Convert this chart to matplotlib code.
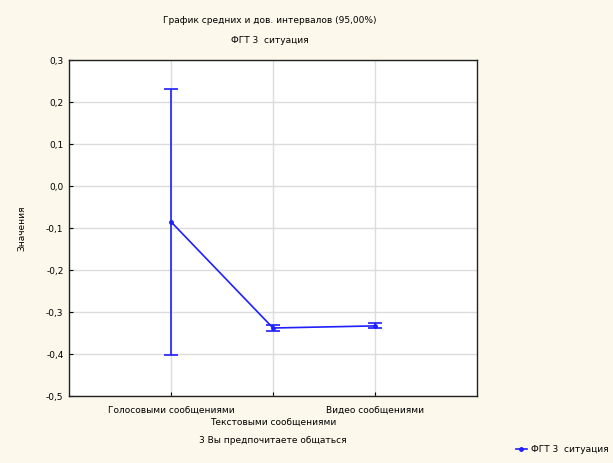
import matplotlib
matplotlib.use("Agg")
import matplotlib.pyplot as plt
from matplotlib.lines import Line2D

categories = ["Голосовыми сообщениями", "Текстовыми сообщениями", "Видео сообщениями"]
means = [-0.085, -0.338, -0.333]
lower = [-0.402, -0.346, -0.339]
upper = [0.231, -0.330, -0.327]
yticks = [0.3, 0.2, 0.1, 0.0, -0.1, -0.2, -0.3, -0.4, -0.5]
series_name = "ФГТ 3  ситуация"

bg = "#fdf8ec"
blue = "#1f1fff"
fig = plt.figure(figsize=(6.13, 4.63), dpi=100, facecolor=bg)
ax = fig.add_axes([0.1126, 0.1447, 0.6656, 0.7253])
ax.set_facecolor("white")

x = list(range(len(categories)))
yerr = [[m - l for m, l in zip(means, lower)], [u - m for m, u in zip(means, upper)]]
ax.errorbar(x, means, yerr=yerr, color=blue, lw=1.2, capsize=5, capthick=1.2,
            marker="o", ms=2.5, zorder=3)

ax.set_xlim(-1, 3)
ax.set_ylim(-0.5, 0.3)
ax.set_yticks(yticks)
ax.set_yticklabels([f"{v:.1f}".replace(".", ",").replace("-0,0", "0,0") for v in yticks],
                   fontsize=6.5)
# staggered category labels: even on major ticks, odd on minor ticks (lower row)
ax.set_xticks(x[0::2])
ax.set_xticklabels(categories[0::2], fontsize=6.5)
ax.set_xticks(x[1::2], minor=True)
ax.set_xticklabels(categories[1::2], minor=True, fontsize=6.5)
ax.tick_params(axis="both", which="both", length=3, width=0.8, direction="in")
ax.tick_params(axis="x", which="major", pad=7)
ax.tick_params(axis="x", which="minor", pad=16)
ax.tick_params(axis="y", pad=4)
ax.grid(True, which="major", color="#dcdcdc", lw=1)
ax.grid(True, which="minor", axis="x", color="#dcdcdc", lw=1)
ax.set_axisbelow(True)
for s in ax.spines.values():
    s.set_linewidth(1.0)
    s.set_color("#222222")

ax.set_ylabel("Значения", fontsize=6.5, labelpad=14)
ax.set_xlabel("3 Вы предпочитаете общаться", fontsize=6.5, labelpad=6)

fig.text(0.44, 0.950, "График средних и дов. интервалов (95,00%)", ha="center", fontsize=6.5)
fig.text(0.44, 0.907, series_name, ha="center", fontsize=6.5)

handle = Line2D([0], [0], color=blue, lw=1.2, marker="o", ms=2.5)
fig.legend([handle], [series_name], loc="lower right", bbox_to_anchor=(1.0, 0.01),
           frameon=False, fontsize=6.5, handlelength=1.3, handletextpad=0.4,
           borderaxespad=0.1)

fig.savefig("out.png", dpi=100, facecolor=bg)
